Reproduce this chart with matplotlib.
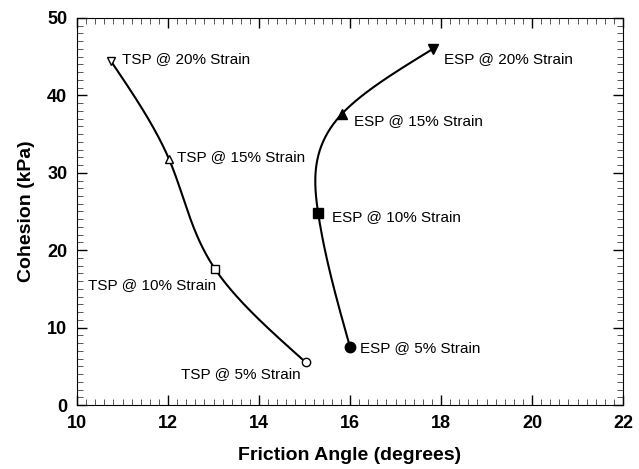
import numpy as np
import matplotlib
matplotlib.use("Agg")
import matplotlib.pyplot as plt
from matplotlib.ticker import MultipleLocator

plt.rcParams['font.family'] = ['Liberation Sans', 'DejaVu Sans']

# data
tsp_phi = [10.75, 12.02, 13.03, 15.03]
tsp_c = [44.4, 31.8, 17.6, 5.5]
tsp_labels = ['TSP @ 20% Strain', 'TSP @ 15% Strain', 'TSP @ 10% Strain', 'TSP @ 5% Strain']
tsp_markers = ['v', '^', 's', 'o']

esp_phi = [16.0, 15.3, 15.82, 17.82]
esp_c = [7.5, 24.8, 37.6, 46.0]
esp_labels = ['ESP @ 5% Strain', 'ESP @ 10% Strain', 'ESP @ 15% Strain', 'ESP @ 20% Strain']
esp_markers = ['o', 's', '^', 'v']


def spline(x, y, n=200):
    # natural cubic spline, parametrised by chord length
    x = np.asarray(x, float); y = np.asarray(y, float)
    t = np.concatenate([[0], np.cumsum(np.hypot(np.diff(x), np.diff(y)))])
    tt = np.linspace(t[0], t[-1], n)
    out = []
    for v in (x, y):
        k = len(t); h = np.diff(t)
        A = np.zeros((k, k)); r = np.zeros(k)
        A[0, 0] = A[-1, -1] = 1
        for i in range(1, k - 1):
            A[i, i-1] = h[i-1]; A[i, i] = 2*(h[i-1]+h[i]); A[i, i+1] = h[i]
            r[i] = 6*((v[i+1]-v[i])/h[i] - (v[i]-v[i-1])/h[i-1])
        M = np.linalg.solve(A, r)
        idx = np.clip(np.searchsorted(t, tt) - 1, 0, k-2)
        a = t[idx+1]-tt; b = tt-t[idx]; hi = h[idx]
        s = (M[idx]*a**3 + M[idx+1]*b**3)/(6*hi) + (v[idx]/hi - M[idx]*hi/6)*a + (v[idx+1]/hi - M[idx+1]*hi/6)*b
        out.append(s)
    return out


fig = plt.figure(figsize=(6.39, 4.69), dpi=100)
ax = fig.add_axes([77/639, 64/469, 546/639, 387/469])

sx, sy = spline(tsp_phi, tsp_c)
ax.plot(sx, sy, color='black', lw=1.5)
sx, sy = spline(esp_phi, esp_c)
ax.plot(sx, sy, color='black', lw=1.5)

for x, y, m in zip(tsp_phi, tsp_c, tsp_markers):
    ax.plot(x, y, m, mfc='white', mec='black', ms=6, mew=1)
for x, y, m in zip(esp_phi, esp_c, esp_markers):
    ax.plot(x, y, m, color='black', ms=7.5)

tsp_off = [(8, 1.5, 'left'), (6, 1.5, 'left'), (1, -12, 'right'), (-4, -8, 'right')]
esp_off = [(7, -1, 'left'), (10, -3, 'left'), (9, -5, 'left'), (8, -7, 'left')]
for x, y, lab, (dx, dy, ha) in zip(tsp_phi, tsp_c, tsp_labels, tsp_off):
    ax.annotate(lab, (x, y), xytext=(dx, dy), textcoords='offset points',
                ha=ha, va='center', fontsize=11)
for x, y, lab, (dx, dy, ha) in zip(esp_phi, esp_c, esp_labels, esp_off):
    ax.annotate(lab, (x, y), xytext=(dx, dy), textcoords='offset points',
                ha=ha, va='center', fontsize=11)

ax.set_xlim(10, 22)
ax.set_ylim(0, 50)
ax.xaxis.set_major_locator(MultipleLocator(2))
ax.xaxis.set_minor_locator(MultipleLocator(0.2))
ax.yaxis.set_major_locator(MultipleLocator(10))
ax.yaxis.set_minor_locator(MultipleLocator(1))
ax.tick_params(which='both', direction='in', top=True, right=True)
ax.tick_params(which='major', length=7, width=1, labelsize=13, pad=7)
ax.tick_params(which='minor', length=4, width=0.7, color='#555555')
for lab in ax.get_xticklabels() + ax.get_yticklabels():
    lab.set_fontweight('bold')

ax.set_xlabel('Friction Angle (degrees)', fontsize=14, fontweight='bold', labelpad=11)
ax.set_ylabel('Cohesion (kPa)', fontsize=14, fontweight='bold', labelpad=9)

fig.savefig('out.png', dpi=100)
